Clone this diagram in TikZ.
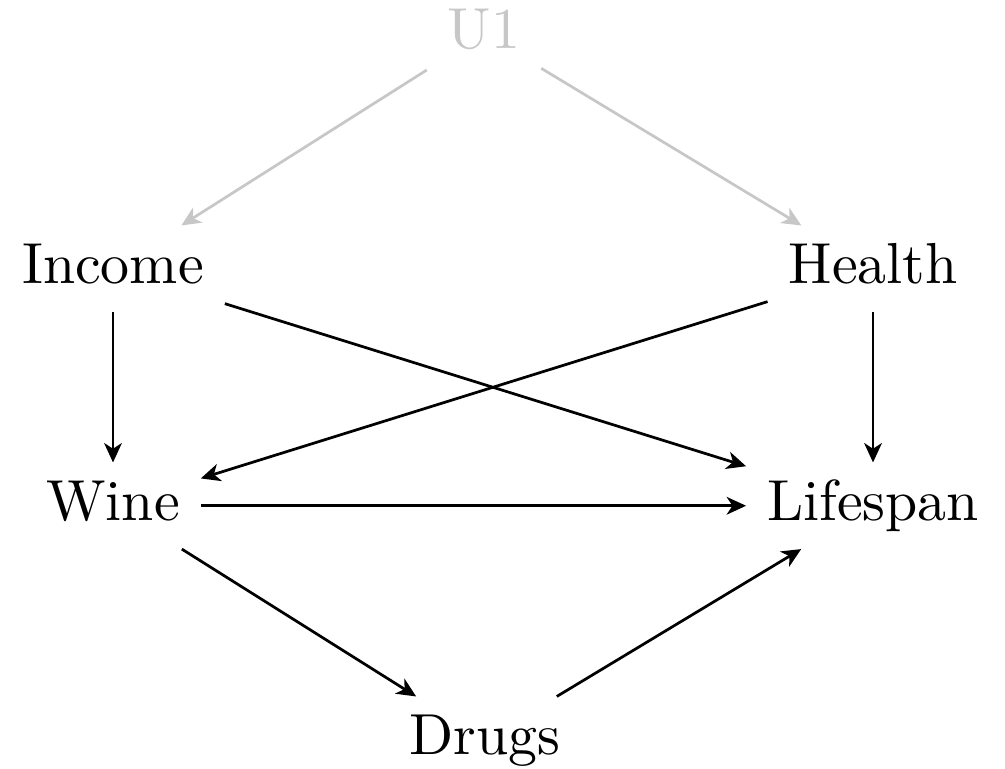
\documentclass[tikz,border=0pt]{standalone}
\usetikzlibrary{arrows.meta}
\begin{document}
\begin{tikzpicture}[x=0.17544pt, y=-0.17544pt,
  var/.style={anchor=base, inner xsep=3.5pt, inner ysep=2.9pt, text height=0.7em, text depth=0.2em, font=\fontsize{10.15}{12}\selectfont},
  edge/.style={-{Stealth[length=3.4pt,width=3.1pt,inset=1pt]}, line width=0.48pt, black},
  latentedge/.style={edge, draw=black!22, fill=black!22},
]
\useasboundingbox (0,0) rectangle (1005,768);
\node[var, text=black!22] (U1) at (484,48) {U1};
\node[var] (Income) at (113,283) {Income};
\node[var] (Health) at (873,283) {Health};
\node[var] (Wine) at (113,520) {Wine};
\node[var] (Lifespan) at (873,520) {Lifespan};
\node[var] (Drugs) at (485,754) {Drugs};
\draw[latentedge] (U1) -- (Income);
\draw[latentedge] (U1) -- (Health);
\draw[edge] (Income) -- (Wine);
\draw[edge] (Income) -- (Lifespan);
\draw[edge] (Health) -- (Wine);
\draw[edge] (Health) -- (Lifespan);
\draw[edge] (Wine) -- (Lifespan);
\draw[edge] (Wine) -- (Drugs);
\draw[edge] (Drugs) -- (Lifespan);
\end{tikzpicture}
\end{document}
